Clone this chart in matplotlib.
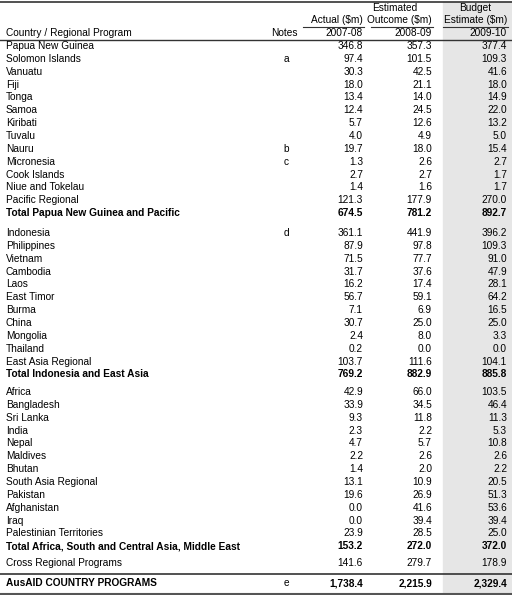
import matplotlib.pyplot as plt
from matplotlib.patches import Rectangle

plt.rcParams["font.family"] = ["Liberation Sans", "DejaVu Sans"]

pacific = ["Papua New Guinea", "Solomon Islands", "Vanuatu", "Fiji", "Tonga", "Samoa",
           "Kiribati", "Tuvalu", "Nauru", "Micronesia", "Cook Islands", "Niue and Tokelau",
           "Pacific Regional"]
pacific_notes = ["", "a", "", "", "", "", "", "", "b", "c", "", "", ""]
pacific_vals = [("346.8", "357.3", "377.4"), ("97.4", "101.5", "109.3"), ("30.3", "42.5", "41.6"),
                ("18.0", "21.1", "18.0"), ("13.4", "14.0", "14.9"), ("12.4", "24.5", "22.0"),
                ("5.7", "12.6", "13.2"), ("4.0", "4.9", "5.0"), ("19.7", "18.0", "15.4"),
                ("1.3", "2.6", "2.7"), ("2.7", "2.7", "1.7"), ("1.4", "1.6", "1.7"),
                ("121.3", "177.9", "270.0")]
pacific_total = ("Total Papua New Guinea and Pacific", ("674.5", "781.2", "892.7"))

eastasia = ["Indonesia", "Philippines", "Vietnam", "Cambodia", "Laos", "East Timor", "Burma",
            "China", "Mongolia", "Thailand", "East Asia Regional"]
eastasia_notes = ["d", "", "", "", "", "", "", "", "", "", ""]
eastasia_vals = [("361.1", "441.9", "396.2"), ("87.9", "97.8", "109.3"), ("71.5", "77.7", "91.0"),
                 ("31.7", "37.6", "47.9"), ("16.2", "17.4", "28.1"), ("56.7", "59.1", "64.2"),
                 ("7.1", "6.9", "16.5"), ("30.7", "25.0", "25.0"), ("2.4", "8.0", "3.3"),
                 ("0.2", "0.0", "0.0"), ("103.7", "111.6", "104.1")]
eastasia_total = ("Total Indonesia and East Asia", ("769.2", "882.9", "885.8"))

africa = ["Africa", "Bangladesh", "Sri Lanka", "India", "Nepal", "Maldives", "Bhutan",
          "South Asia Regional", "Pakistan", "Afghanistan", "Iraq", "Palestinian Territories"]
africa_vals = [("42.9", "66.0", "103.5"), ("33.9", "34.5", "46.4"), ("9.3", "11.8", "11.3"),
               ("2.3", "2.2", "5.3"), ("4.7", "5.7", "10.8"), ("2.2", "2.6", "2.6"),
               ("1.4", "2.0", "2.2"), ("13.1", "10.9", "20.5"), ("19.6", "26.9", "51.3"),
               ("0.0", "41.6", "53.6"), ("0.0", "39.4", "39.4"), ("23.9", "28.5", "25.0")]
africa_total = ("Total Africa, South and Central Asia, Middle East", ("153.2", "272.0", "372.0"))

cross = ("Cross Regional Programs", ("141.6", "279.7", "178.9"))
grand = ("AusAID COUNTRY PROGRAMS", "e", ("1,738.4", "2,215.9", "2,329.4"))

W, H = 512, 595
fig = plt.figure(figsize=(W / 100, H / 100), dpi=100)
ax = fig.add_axes([0, 0, 1, 1])
ax.set_xlim(0, W)
ax.set_ylim(H, 0)
ax.axis("off")

FS = 7.3
x_name, x_note = 6, 286
x_cols = [363, 432, 507]

ax.add_patch(Rectangle((443, 2), W - 443, 592, color="#e6e6e6", zorder=0))
ax.plot([0, W], [2, 2], color="#333333", lw=1.2)
ax.plot([0, W], [40, 40], color="#333333", lw=1.0)
for x0, x1 in [(303, 364), (371, 433), (443, 508)]:
    ax.plot([x0, x1], [27, 27], color="#333333", lw=0.8)

def t(x, y, s, ha="left", bold=False):
    ax.text(x, y, s, ha=ha, va="center", fontsize=FS, fontweight="bold" if bold else "normal")

t(395, 8, "Estimated", ha="center")
t(475, 8, "Budget", ha="center")
t(x_cols[0], 20, "Actual ($m)", ha="right")
t(x_cols[1], 20, "Outcome ($m)", ha="right")
t(x_cols[2], 20, "Estimate ($m)", ha="right")
t(x_name, 33, "Country / Regional Program")
t(298, 33, "Notes", ha="right")
for x, s in zip(x_cols, ["2007-08", "2008-09", "2009-10"]):
    t(x, 33, s, ha="right")

def row(y, name, vals, note="", bold=False):
    t(x_name, y, name, bold=bold)
    if note:
        t(x_note, y, note, ha="center")
    for x, v in zip(x_cols, vals):
        t(x, y, v, ha="right", bold=bold)

step = 12.85
y = 46
for n, note, v in zip(pacific, pacific_notes, pacific_vals):
    row(y, n, v, note)
    y += step
row(y, pacific_total[0], pacific_total[1], bold=True)

y = 233
for n, note, v in zip(eastasia, eastasia_notes, eastasia_vals):
    row(y, n, v, note)
    y += step
row(y, eastasia_total[0], eastasia_total[1], bold=True)

y = 392
for n, v in zip(africa, africa_vals):
    row(y, n, v)
    y += step
row(y, africa_total[0], africa_total[1], bold=True)

row(563, cross[0], cross[1])
ax.plot([0, W], [573.5, 573.5], color="#333333", lw=1.2)
row(583, grand[0], grand[2], note=grand[1], bold=True)
ax.plot([0, W], [593.5, 593.5], color="#555555", lw=1.5)

fig.savefig("out.png", dpi=100)
